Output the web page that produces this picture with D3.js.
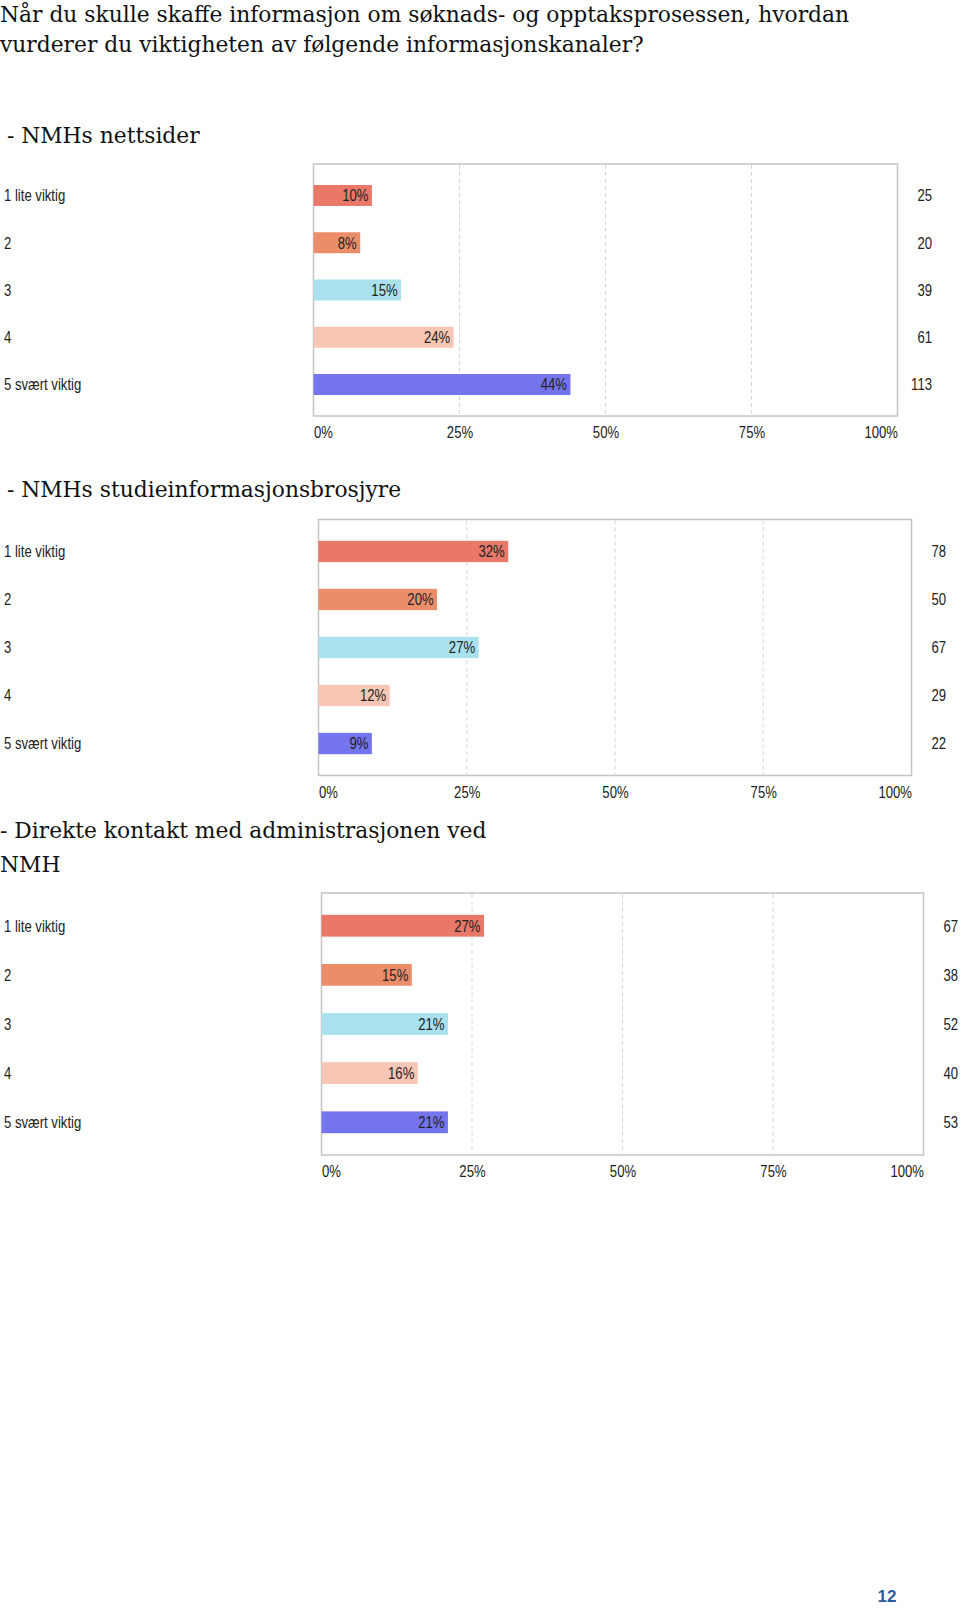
<!DOCTYPE html>
<html>
<head>
<meta charset="utf-8">
<script src="https://cdn.jsdelivr.net/npm/d3@7"></script>
<style>
  html, body { margin: 0; padding: 0; background: #fff; }
  svg { display: block; }
  .serif { font-family: "DejaVu Serif", "Liberation Serif", serif; fill: #111; }
  .sans { font-family: "Liberation Sans", Arial, sans-serif; fill: #222; }
</style>
</head>
<body>
<svg id="chart" width="960" height="1608"></svg>
<script>
// ---------- data ----------
const pageTitle = ["Når du skulle skaffe informasjon om søknads- og opptaksprosessen, hvordan",
                   "vurderer du viktigheten av følgende informasjonskanaler?"];
const categories = ["1 lite viktig", "2", "3", "4", "5 svært viktig"];
const tickValues = [0, 25, 50, 75, 100];
const tickLabels = ["0%", "25%", "50%", "75%", "100%"];

const titleNettsider = [" - NMHs nettsider"];
const pctNettsider = [10, 8, 15, 24, 44];
const countNettsider = [25, 20, 39, 61, 113];

const titleBrosjyre = [" - NMHs studieinformasjonsbrosjyre"];
const pctBrosjyre = [32, 20, 27, 12, 9];
const countBrosjyre = [78, 50, 67, 29, 22];

const titleKontakt = ["- Direkte kontakt med administrasjonen ved", "NMH"];
const pctKontakt = [27, 15, 21, 16, 21];
const countKontakt = [67, 38, 52, 40, 53];

const barColors = ["#E97868", "#EC8D6A", "#AAE1EE", "#F8C6B5", "#7474EE"];
const pageNumber = "12";

// ---------- layout ----------
const charts = [
  { title: titleNettsider, pct: pctNettsider, count: countNettsider,
    titleY: 143, left: 313.5, right: 897.5, top: 164, bottom: 416 },
  { title: titleBrosjyre, pct: pctBrosjyre, count: countBrosjyre,
    titleY: 497, left: 318.5, right: 911.5, top: 519.5, bottom: 775.5 },
  { title: titleKontakt, pct: pctKontakt, count: countKontakt,
    titleY: 838, left: 321.5, right: 923.5, top: 893, bottom: 1155 }
];
const NARROW = 0.82;   // chart text is horizontally condensed in the original
const FS = 16;
const SERIF_FS = 21.8;

const svg = d3.select("#chart");

// page title
svg.append("text").attr("class", "serif")
  .attr("font-size", SERIF_FS)
  .selectAll("tspan").data(pageTitle).join("tspan")
  .attr("x", 0).attr("y", (d, i) => 22 + i * 29.5)
  .text(d => d);

// helper: narrow text positioned at (x, y)
function narrow(sel, fx, fy) {
  sel.attr("transform", (d, i) => `translate(${fx(d, i)},${fy(d, i)}) scale(${NARROW},1)`)
     .attr("x", 0).attr("y", 0);
}

charts.forEach(c => {
  const g = svg.append("g");

  // section heading
  g.append("text").attr("class", "serif")
    .attr("font-size", SERIF_FS)
    .attr("xml:space", "preserve")
    .style("white-space", "pre")
    .selectAll("tspan").data(c.title).join("tspan")
    .attr("x", 0).attr("y", (d, i) => c.titleY + i * 33.5)
    .text(d => d);

  const x = d3.scaleLinear().domain([0, 100]).range([c.left, c.right]);
  const y = d3.scaleBand().domain(categories).range([c.top, c.bottom])
    .paddingInner(0.556).paddingOuter(0.444);
  const cy = d => y(d.cat) + y.bandwidth() / 2;

  // frame
  g.append("rect")
    .attr("x", c.left).attr("y", c.top)
    .attr("width", c.right - c.left).attr("height", c.bottom - c.top)
    .attr("fill", "#fff").attr("stroke", "#c4c4c4").attr("stroke-width", 1.5);

  // grid lines
  g.selectAll("line.grid").data(tickValues.filter(v => v > 0 && v < 100)).join("line")
    .attr("class", "grid")
    .attr("x1", d => x(d)).attr("x2", d => x(d))
    .attr("y1", c.top + 1).attr("y2", c.bottom - 1)
    .attr("stroke", "#d6d6d6").attr("stroke-width", 1)
    .attr("stroke-dasharray", "4,3");

  // bars
  const rows = categories.map((cat, i) => ({ cat, pct: c.pct[i], count: c.count[i], i }));
  g.selectAll("rect.bar").data(rows).join("rect")
    .attr("class", "bar")
    .attr("x", x(0))
    .attr("y", d => y(d.cat))
    .attr("width", d => x(d.pct) - x(0))
    .attr("height", y.bandwidth())
    .attr("fill", d => barColors[d.i]);

  // value labels in bars
  g.selectAll("text.val").data(rows).join("text")
    .attr("class", "sans val")
    .attr("font-size", FS)
    .attr("text-anchor", "end")
    .attr("dy", "0.36em")
    .attr("fill", d => d.i === 4 ? "#1c1c4a" : "#2a2a2a")
    .text(d => d.pct + "%")
    .call(narrow, d => x(d.pct) - 3.5, cy);

  // category labels
  g.selectAll("text.cat").data(rows).join("text")
    .attr("class", "sans cat")
    .attr("font-size", FS)
    .attr("dy", "0.36em")
    .text(d => d.cat)
    .call(narrow, () => 4, cy);

  // counts on the right
  g.selectAll("text.cnt").data(rows).join("text")
    .attr("class", "sans cnt")
    .attr("font-size", FS)
    .attr("text-anchor", "end")
    .attr("dy", "0.36em")
    .text(d => d.count)
    .call(narrow, () => c.right + 34.5, cy);

  // x axis
  const axis = d3.axisBottom(x).tickValues(tickValues).tickSize(0)
    .tickFormat((d, i) => tickLabels[i]);
  const ag = g.append("g").attr("transform", `translate(0,${c.bottom + 11})`).call(axis);
  ag.select(".domain").remove();
  ag.selectAll("text")
    .attr("class", "sans")
    .attr("font-size", FS)
    .attr("fill", "#222")
    .attr("x", 0).attr("y", 0).attr("dy", "0.71em")
    .attr("transform", `scale(${NARROW},1)`)
    .attr("text-anchor", (d, i) => i === 0 ? "start" : (i === tickValues.length - 1 ? "end" : "middle"));
});

// page number
svg.append("text")
  .attr("x", 887).attr("y", 1602)
  .attr("text-anchor", "middle")
  .attr("font-family", "Liberation Sans, Arial, sans-serif")
  .attr("font-weight", "bold")
  .attr("font-size", 17)
  .attr("fill", "#2B5C9C")
  .text(pageNumber);
</script>
</body>
</html>
